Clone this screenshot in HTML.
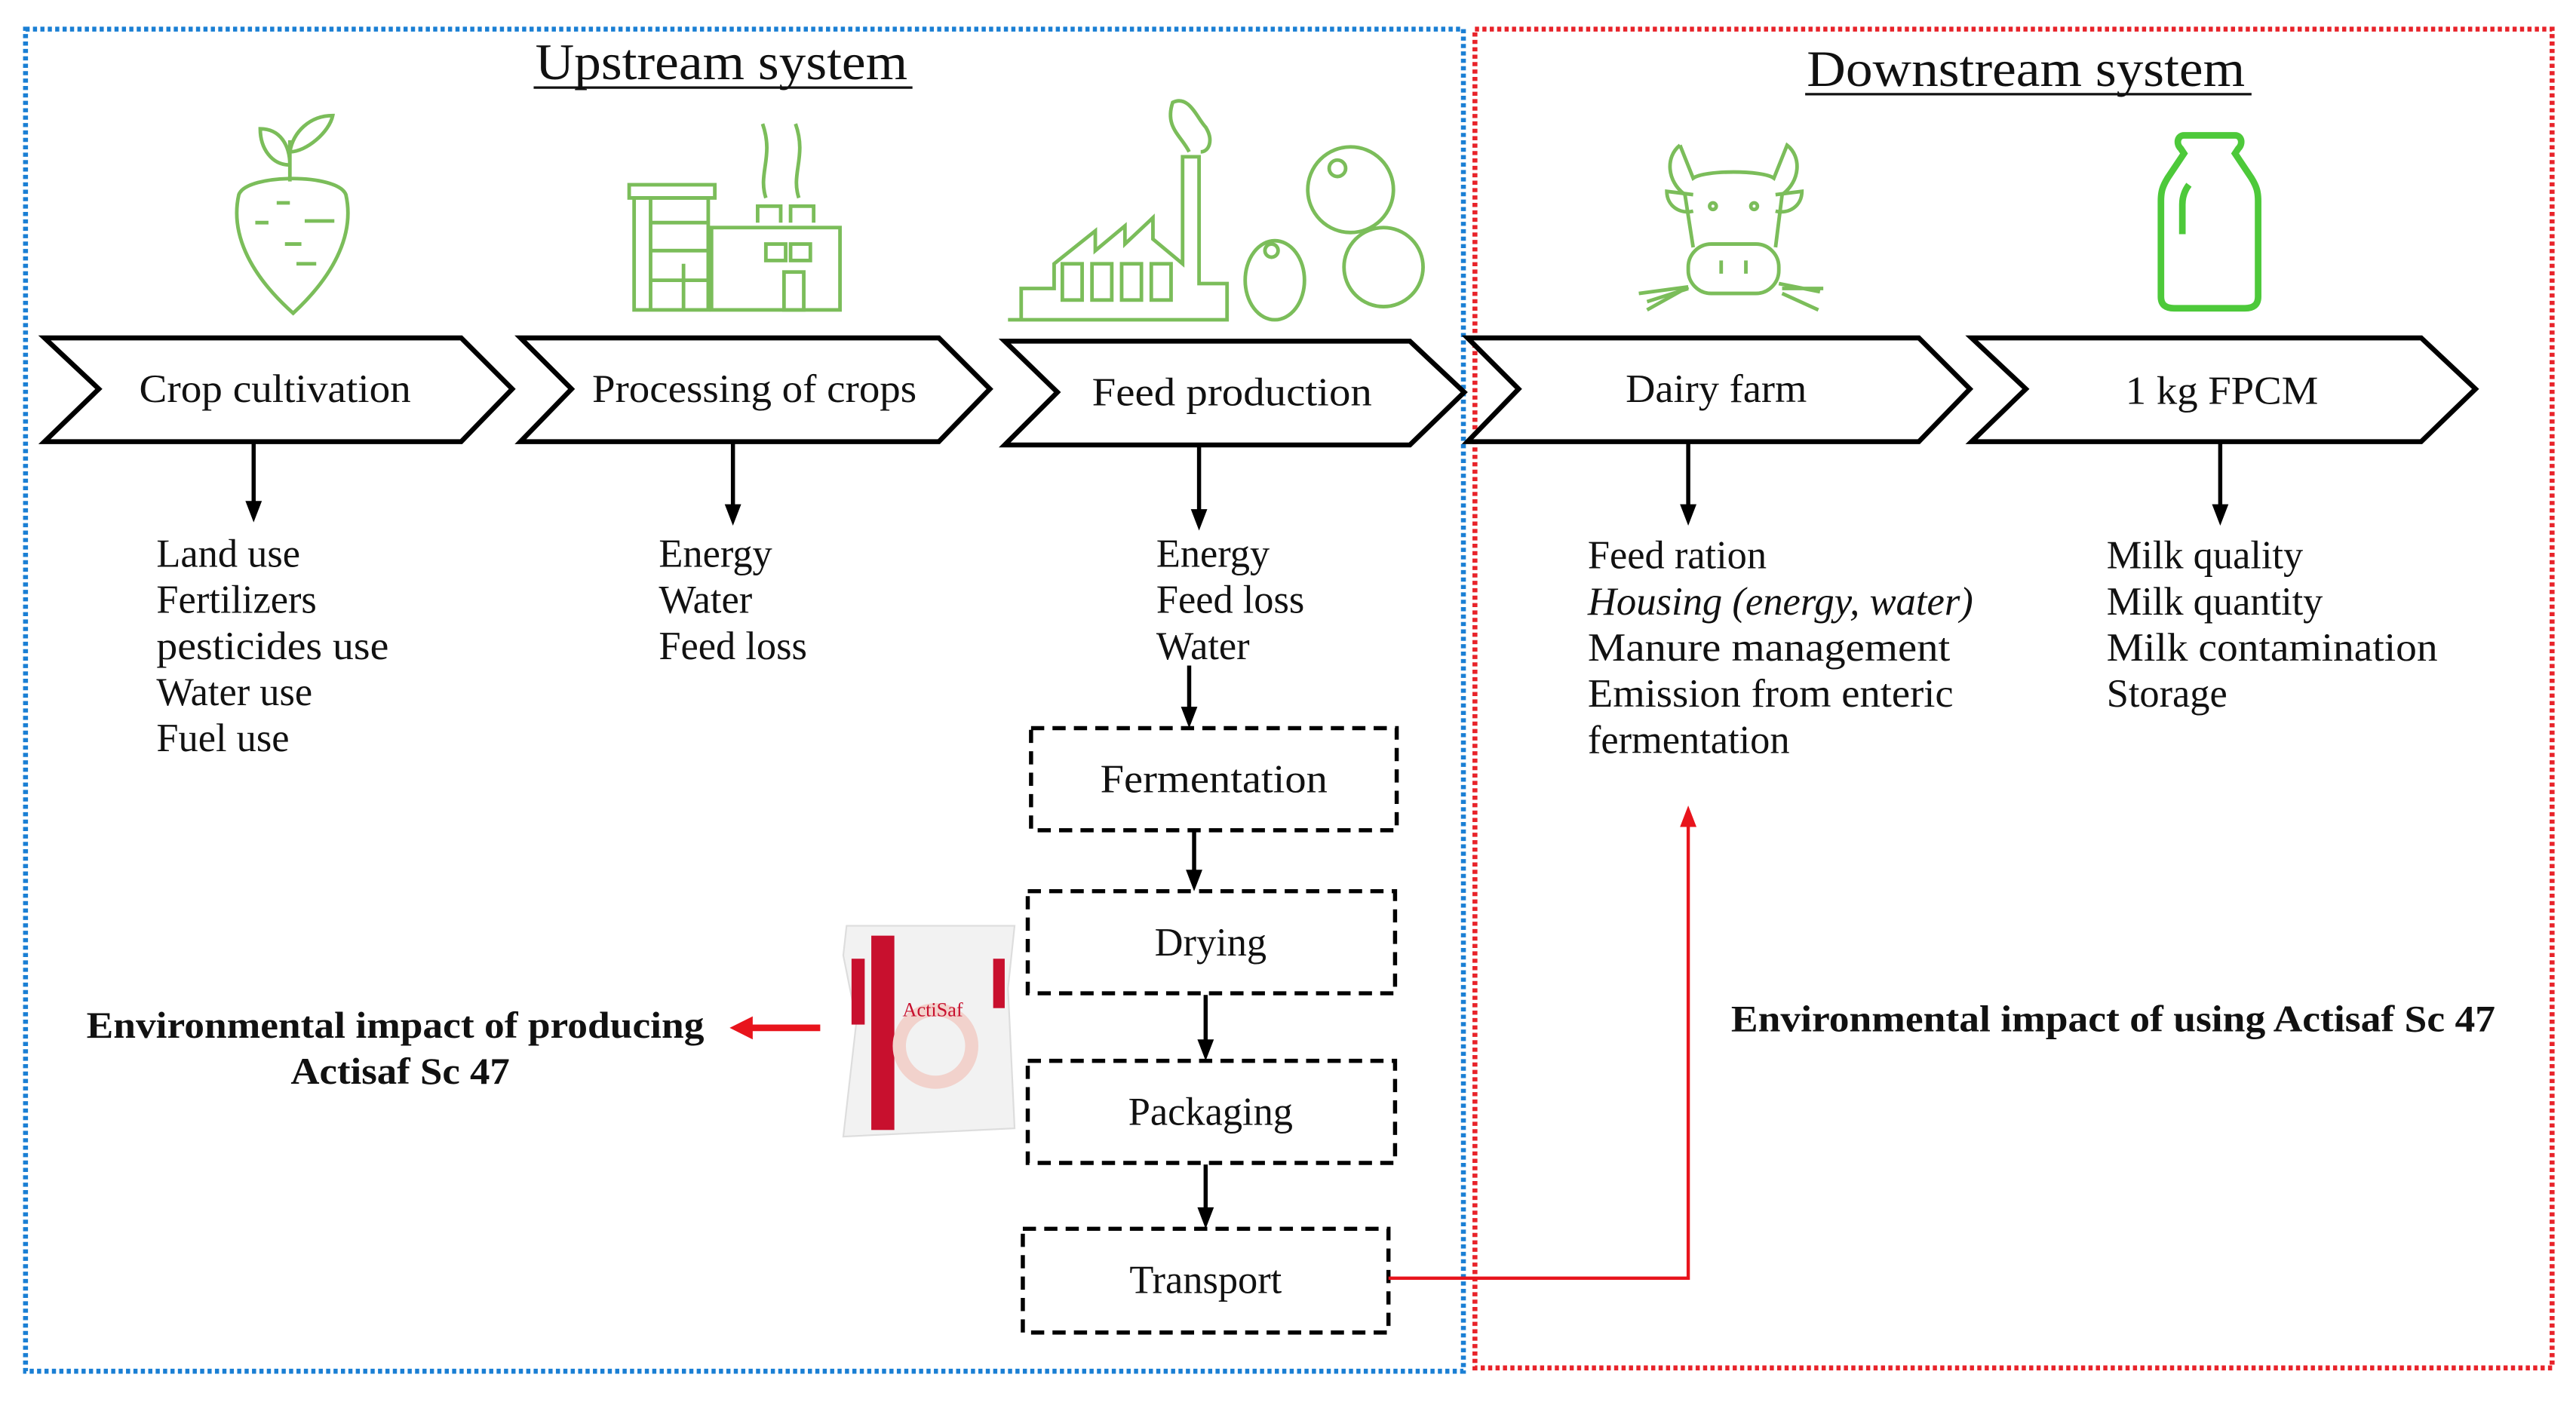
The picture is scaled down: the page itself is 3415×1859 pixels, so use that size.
<!DOCTYPE html>
<html><head><meta charset="utf-8"><style>
html,body{margin:0;padding:0;background:#fff;}
svg{display:block;}
text{font-family:"Liberation Serif",serif;fill:#111;}
</style></head><body>
<svg width="3415" height="1859" viewBox="0 0 1564 851" xmlns="http://www.w3.org/2000/svg">
<rect width="1564" height="851" fill="#fff"/>
<!-- frames -->
<rect x="15.5" y="17.5" width="873" height="815" fill="none" stroke="#1a7fd4" stroke-width="3" stroke-dasharray="2.5 2"/>
<rect x="895.5" y="17.5" width="654" height="813" fill="none" stroke="#e8232a" stroke-width="3" stroke-dasharray="2.5 2"/>

<text x="438" y="48" font-size="31" text-anchor="middle" textLength="226" lengthAdjust="spacingAndGlyphs">Upstream system</text>
<line x1="324" y1="53" x2="554" y2="53" stroke="#111" stroke-width="1.5"/>
<text x="1230" y="52" font-size="31" text-anchor="middle" textLength="266" lengthAdjust="spacingAndGlyphs">Downstream system</text>
<line x1="1096" y1="57" x2="1367" y2="57" stroke="#111" stroke-width="1.5"/>

<!-- icons -->
<g fill="none" stroke="#7bbd5a" stroke-width="2.2">
 <path d="M178,190 C150,165 140,140 145,118 C150,105 205,105 210,118 C215,140 205,165 178,190 z"/>
 <path d="M176,110 L176,85 M176,100 C165,100 158,90 158,78 C170,78 176,88 176,100 M176,92 C186,92 200,80 202,70 C188,70 178,80 176,92"/>
 <path d="M155,135 h8 M185,134 h18 M173,148 h10 M180,160 h12 M168,123 h8"/>
</g>
<g fill="none" stroke="#7bbd5a" stroke-width="2.2">
 <rect x="385" y="120" width="45" height="68"/><rect x="382" y="112" width="52" height="8"/>
 <path d="M395,120 v68 M395,135 h35 M395,152 h35 M395,170 h35 M415,160 v28"/>
 <rect x="432" y="138" width="78" height="50"/>
 <path d="M460,135 v-10 h14 v10 M480,135 v-10 h14 v10 M465,120 c-5,-15 5,-25 -2,-45 M485,120 c-5,-15 5,-25 -2,-45"/>
 <rect x="465" y="148" width="12" height="10"/><rect x="480" y="148" width="12" height="10"/><rect x="476" y="165" width="12" height="23"/>
</g>
<g fill="none" stroke="#7bbd5a" stroke-width="2.2">
 <path d="M612,194 H745 V172 H728 V95 h-10 V160 L700,145 V132 L683,148 V137 L665,152 V140 L640,160 L640,175 L620,175 L620,194"/>
 <rect x="645" y="160" width="12" height="22"/><rect x="663" y="160" width="12" height="22"/><rect x="681" y="160" width="12" height="22"/><rect x="699" y="160" width="12" height="22"/>
 <path d="M722,92 c-5,-10 -15,-15 -10,-30 c10,-5 15,10 20,15 c5,8 2,15 -3,15"/>
 <ellipse cx="774" cy="170" rx="18" ry="24"/><circle cx="820" cy="115" r="26"/><circle cx="840" cy="162" r="24"/>
 <circle cx="812" cy="102" r="5"/><circle cx="772" cy="152" r="4"/>
</g>
<g fill="none" stroke="#7bbd5a" stroke-width="2.2">
 <path d="M1020,88 L1028,108 C1035,103 1070,103 1077,108 L1085,88 C1094,95 1093,110 1082,118 L1078,150 M1020,88 C1011,95 1012,110 1023,118 L1028,150"/>
 <path d="M1028,118 L1012,116 C1012,125 1020,130 1028,128 M1078,118 L1094,116 C1094,125 1086,130 1078,128"/>
 <rect x="1025" y="148" width="55" height="30" rx="14"/>
 <path d="M1045,158 v8 M1060,158 v8 M1000,188 l25,-14 M995,178 l30,-4 M1000,183 l25,-8 M1080,172 l25,5 M1082,178 l22,10 M1082,175 l25,0"/>
 <circle cx="1040" cy="125" r="2"/><circle cx="1065" cy="125" r="2"/>
</g>
<path d="M1327,82 h30 c4,0 5,5 2,8 l-2,3 l10,15 c3,5 4,8 4,14 v58 c0,5 -3,7 -8,7 h-43 c-5,0 -8,-2 -8,-7 v-58 c0,-6 1,-9 4,-14 l10,-15 l-2,-3 c-3,-3 -2,-8 2,-8 z M1329,112 c-3,4 -4,8 -4,12 v18" fill="none" stroke="#4dc93a" stroke-width="4"/>

<!-- chevrons -->
<g fill="#fff" stroke="#000" stroke-width="3">
 <path d="M27,205 H280 L311,236 L280,268 H27 L60,236 z"/>
 <path d="M316,205 H570 L601,236 L570,268 H316 L347,236 z"/>
 <path d="M610,207 H856 L889,238 L856,270 H610 L642,238 z"/>
 <path d="M891,205 H1165 L1196,236 L1165,268 H891 L922,236 z"/>
 <path d="M1197,205 H1470 L1503,236 L1470,268 H1197 L1230,236 z"/>
</g>
<g font-size="24" text-anchor="middle">
 <text x="167" y="244" textLength="165" lengthAdjust="spacingAndGlyphs">Crop cultivation</text>
 <text x="458" y="244" textLength="197" lengthAdjust="spacingAndGlyphs">Processing of crops</text>
 <text x="748" y="246" textLength="170" lengthAdjust="spacingAndGlyphs">Feed production</text>
 <text x="1042" y="244" textLength="110" lengthAdjust="spacingAndGlyphs">Dairy farm</text>
 <text x="1349" y="245" textLength="117" lengthAdjust="spacingAndGlyphs">1 kg FPCM</text>
</g>

<!-- down arrows -->
<g stroke="#000" stroke-width="2.5">
 <line x1="154" y1="268" x2="154" y2="306"/>
 <line x1="445" y1="269" x2="445" y2="308"/>
 <line x1="728" y1="271" x2="728" y2="311"/>
 <line x1="1025" y1="269" x2="1025" y2="308"/>
 <line x1="1348" y1="269" x2="1348" y2="308"/>
 <line x1="722" y1="404" x2="722" y2="432"/>
 <line x1="725" y1="505" x2="725" y2="530"/>
 <line x1="732" y1="604" x2="732" y2="633"/>
 <line x1="732" y1="707" x2="732" y2="735"/>
</g>
<g fill="#000">
 <path d="M149,304 h10 l-5,13 z"/>
 <path d="M440,306 h10 l-5,13 z"/>
 <path d="M723,309 h10 l-5,13 z"/>
 <path d="M1020,306 h10 l-5,13 z"/>
 <path d="M1343,306 h10 l-5,13 z"/>
 <path d="M717,429 h10 l-5,13 z"/>
 <path d="M720,528 h10 l-5,13 z"/>
 <path d="M727,631 h10 l-5,13 z"/>
 <path d="M727,733 h10 l-5,13 z"/>
</g>

<g font-size="24">
 <text x="95" y="344">Land use</text><text x="95" y="372">Fertilizers</text><text x="95" y="400" textLength="141" lengthAdjust="spacingAndGlyphs">pesticides use</text><text x="95" y="428">Water use</text><text x="95" y="456">Fuel use</text>
 <text x="400" y="344">Energy</text><text x="400" y="372">Water</text><text x="400" y="400">Feed loss</text>
 <text x="702" y="344">Energy</text><text x="702" y="372">Feed loss</text><text x="702" y="400">Water</text>
 <text x="964" y="345">Feed ration</text><text x="964" y="373" font-style="italic" textLength="234" lengthAdjust="spacingAndGlyphs">Housing (energy, water)</text><text x="964" y="401" textLength="220" lengthAdjust="spacingAndGlyphs">Manure management</text><text x="964" y="429" textLength="222" lengthAdjust="spacingAndGlyphs">Emission from enteric</text><text x="964" y="457">fermentation</text>
 <text x="1279" y="345">Milk quality</text><text x="1279" y="373">Milk quantity</text><text x="1279" y="401" textLength="201" lengthAdjust="spacingAndGlyphs">Milk contamination</text><text x="1279" y="429">Storage</text>
</g>

<!-- dashed boxes -->
<g fill="none" stroke="#000" stroke-width="2.5" stroke-dasharray="8 5">
 <rect x="626" y="442" width="222" height="62"/>
 <rect x="624" y="541" width="223" height="62"/>
 <rect x="624" y="644" width="223" height="62"/>
 <rect x="621" y="746" width="222" height="63"/>
</g>
<g font-size="24" text-anchor="middle">
 <text x="737" y="481" textLength="138" lengthAdjust="spacingAndGlyphs">Fermentation</text>
 <text x="735" y="580">Drying</text>
 <text x="735" y="683">Packaging</text>
 <text x="732" y="785">Transport</text>
</g>

<!-- red connectors -->
<path d="M843,776 H1025 V500" fill="none" stroke="#e8141c" stroke-width="2"/>
<path d="M1025,489 L1020,502 L1030,502 z" fill="#e8141c"/>
<line x1="498" y1="624" x2="455" y2="624" stroke="#e8141c" stroke-width="4"/>
<path d="M443,624 L457,617 L457,631 z" fill="#e8141c"/>

<!-- bag -->
<g>
 <path d="M514,562 L616,562 L612,600 L616,685 L512,690 L520,620 L512,580 z" fill="#f2f2f2" stroke="#ddd" stroke-width="1"/>
 <rect x="529" y="568" width="14" height="118" fill="#c8102e"/>
 <rect x="517" y="582" width="8" height="40" fill="#c8102e"/>
 <rect x="603" y="582" width="7" height="30" fill="#c8102e"/>
 <circle cx="568" cy="635" r="22" fill="none" stroke="#f2d2cc" stroke-width="8"/>
 <text x="548" y="617" font-family="Liberation Sans,sans-serif" font-size="12" style="fill:#c8102e">ActiSaf</text>
</g>

<g font-size="23" font-weight="bold" text-anchor="middle">
 <text x="240" y="630" textLength="375" lengthAdjust="spacingAndGlyphs">Environmental impact of producing</text>
 <text x="243" y="658" textLength="133" lengthAdjust="spacingAndGlyphs">Actisaf Sc 47</text>
 <text x="1283" y="626" textLength="464" lengthAdjust="spacingAndGlyphs">Environmental impact of using Actisaf Sc 47</text>
</g>
</svg>
</body></html>
